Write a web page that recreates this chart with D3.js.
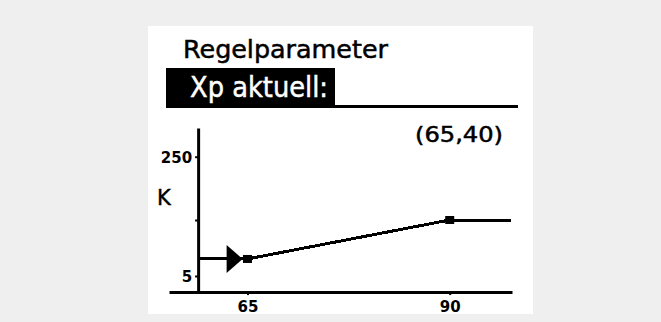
<!DOCTYPE html>
<html>
<head>
<meta charset="utf-8">
<script src="https://cdn.jsdelivr.net/npm/d3@7/dist/d3.min.js"></script>
<style>
  html, body { margin: 0; padding: 0; background: #efefef; }
  svg { display: block; }
  text { font-family: "DejaVu Sans", sans-serif; fill: #000; }
</style>
</head>
<body>
<svg id="chart" width="661" height="322"></svg>
<script>
// Heating curve parameters shown on the controller display
const title = "Regelparameter";
const menuItem = "Xp aktuell:";
const pointLabel = "(65,40)";
const yUnit = "K";

// Curve: flat start at 40 K, rises from 65 to 90, then flat at 120 K
const curveX = [58.9, 65, 90, 97.6];
const curveY = [40, 40, 120, 120];
const markerX = [65, 90];
const markerY = [40, 120];
const cursorX = 64.4;   // selection arrow sits just left of the active point
const cursorY = 40;

// Axis ticks
const xTicks = [65, 90];
const xTickLabels = ["65", "90"];
const yTicks = [5, 120, 250];
const yTickLabels = ["5", "", "250"];

const svg = d3.select("#chart");

// display panel
svg.append("rect").attr("x", 148).attr("y", 26).attr("width", 385).attr("height", 288)
  .attr("fill", "#ffffff");

// header
svg.append("text").attr("x", 183).attr("y", 58)
  .attr("font-size", 24).attr("textLength", 205).attr("lengthAdjust", "spacingAndGlyphs")
  .attr("stroke", "#000").attr("stroke-width", 0.5)
  .text(title);

svg.append("rect").attr("x", 166).attr("y", 105).attr("width", 352).attr("height", 3)
  .attr("fill", "#000");
svg.append("rect").attr("x", 166).attr("y", 68).attr("width", 169).attr("height", 40)
  .attr("fill", "#000");
svg.append("text").attr("x", 190).attr("y", 97)
  .attr("font-size", 28).attr("textLength", 138).attr("lengthAdjust", "spacingAndGlyphs")
  .attr("stroke", "#fff").attr("stroke-width", 0.5)
  .style("fill", "#fff")
  .text(menuItem);

svg.append("text").attr("x", 415).attr("y", 142)
  .attr("font-size", 21).attr("textLength", 88).attr("lengthAdjust", "spacingAndGlyphs")
  .attr("stroke", "#000").attr("stroke-width", 0.5)
  .text(pointLabel);

// scales
const x = d3.scaleLinear().domain([55.3, 97.7]).range([169, 512]);
const y = d3.scaleLinear().domain([5, 250]).range([276, 156.7]);
const yAxisX = x(58.9);
const xAxisY = y(-28);

// y axis
const yAxis = d3.axisLeft(y.copy().domain([y.invert(xAxisY), y.invert(128)]).range([xAxisY, 128]))
  .tickValues(yTicks)
  .tickFormat((d, i) => yTickLabels[i])
  .tickSizeInner(3).tickSizeOuter(0).tickPadding(3);
const gy = svg.append("g").attr("transform", `translate(${yAxisX},0)`).call(yAxis);
gy.select(".domain").attr("stroke-width", 3);
gy.selectAll(".tick line").attr("stroke-width", 2);
gy.selectAll(".tick text").attr("font-size", 15).attr("font-weight", "bold")
  .attr("font-family", "DejaVu Sans, sans-serif").attr("dy", "0.36em");

// x axis
const xAxis = d3.axisBottom(x).tickValues(xTicks)
  .tickFormat((d, i) => xTickLabels[i])
  .tickSizeInner(3).tickSizeOuter(0).tickPadding(6);
const gx = svg.append("g").attr("transform", `translate(0,${xAxisY})`).call(xAxis);
gx.select(".domain").attr("stroke-width", 3);
gx.selectAll(".tick line").attr("stroke-width", 2);
gx.selectAll(".tick text").attr("font-size", 15).attr("font-weight", "bold")
  .attr("font-family", "DejaVu Sans, sans-serif");

// unit label
svg.append("text").attr("x", 157).attr("y", 205).attr("font-size", 21)
  .attr("stroke", "#000").attr("stroke-width", 0.4).text(yUnit);

// curve
const line = d3.line().x(d => x(d[0])).y(d => y(d[1]));
svg.append("path")
  .datum(d3.zip(curveX, curveY))
  .attr("d", line)
  .attr("fill", "none").attr("stroke", "#000").attr("stroke-width", 3)
  .attr("shape-rendering", "crispEdges");

// point markers
svg.selectAll("rect.marker").data(d3.zip(markerX, markerY)).join("rect")
  .attr("class", "marker")
  .attr("x", d => x(d[0]) - 4.5).attr("y", d => y(d[1]) - 4)
  .attr("width", 9).attr("height", 8).attr("fill", "#000");

// cursor arrow
const cx = x(cursorX), cy = y(cursorY);
svg.append("path")
  .attr("d", `M${cx - 16},${cy - 14} L${cx},${cy} L${cx - 16},${cy + 14} Z`)
  .attr("fill", "#000");
</script>
</body>
</html>
